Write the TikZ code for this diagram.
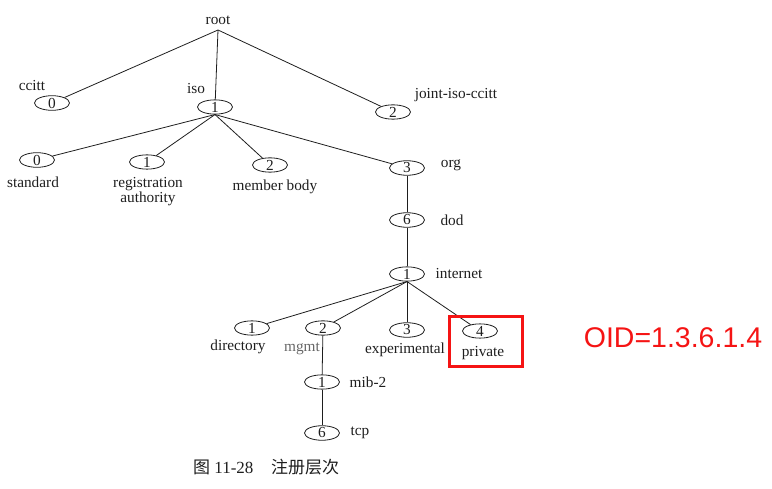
\documentclass[tikz,border=0pt]{standalone}
\usepackage{fontspec}
\setmainfont{Liberation Serif}
\newfontfamily\cjk{Noto Sans CJK SC}
\newfontfamily\oidfont{Liberation Sans}
\usetikzlibrary{shapes.geometric}
\definecolor{ink}{RGB}{30,30,30}
\definecolor{oidred}{RGB}{245,20,20}
\tikzset{
  oval/.style={ellipse, draw=ink, line width=0.8pt, minimum width=35pt, minimum height=14pt, inner sep=0pt, text=ink, font=\fontsize{15.3}{16}\selectfont},
  lbl/.style={inner sep=0pt, text=ink, font=\fontsize{15.3}{15.5}\selectfont, align=center},
  link/.style={draw=ink, line width=0.8pt},
  redbox/.style={draw=oidred, line width=3pt, minimum width=73pt, minimum height=50pt, inner sep=0pt},
}
\begin{document}
\begin{tikzpicture}[x=1pt,y=-1pt]
\useasboundingbox (0,0) rectangle (772,489);
% root
\node[lbl] (rootlbl) at (218,20) {root};
\coordinate (root) at (218,30);
% level 1
\node[oval] (ccitt) at (52,103) {0};
\node[lbl] (ccittlbl) at (32,86) {ccitt};
\node[oval] (iso) at (215,107) {1};
\node[lbl] (isolbl) at (196,89) {iso};
\node[oval] (joint) at (393,112) {2};
\node[lbl] (jointlbl) at (456,95) {joint-iso-ccitt};
% level 2
\node[oval] (std) at (37,160) {0};
\node[lbl] (stdlbl) at (33,182) {standard};
\node[oval] (reg) at (147,162) {1};
\node[lbl] (reglbl) at (148,191.5) {registration\\authority};
\node[oval] (mem) at (270,165) {2};
\node[lbl] (memlbl) at (275,187) {member body};
\node[oval] (org) at (407,168) {3};
\node[lbl] (orglbl) at (451,165) {org};
% dod
\node[oval] (dod) at (407,220) {6};
\node[lbl] (dodlbl) at (452,220) {dod};
% internet
\node[oval] (inet) at (407,274) {1};
\node[lbl] (inetlbl) at (459,274) {internet};
% internet children
\node[oval] (dir) at (252,328) {1};
\node[lbl] (dirlbl) at (238,347) {directory};
\node[oval] (mgmt) at (323,328) {2};
\node[lbl, text=black!60] (mgmtlbl) at (302,349) {mgmt};
\node[oval] (exp) at (407,330) {3};
\node[lbl] (explbl) at (405,350) {experimental};
\node[oval] (priv) at (480,331) {4};
\node[lbl] (privlbl) at (483,353) {private};
% mib-2 and tcp
\node[oval] (mib) at (322,382) {1};
\node[lbl] (miblbl) at (368,382) {mib-2};
\node[oval] (tcp) at (322,433) {6};
\node[lbl] (tcplbl) at (360,433) {tcp};
% connectors
\draw[link] (root) -- (ccitt);
\draw[link] (root) -- (iso);
\draw[link] (root) -- (joint);
\draw[link] (iso.south) -- (std);
\draw[link] (iso.south) -- (reg);
\draw[link] (iso.south) -- (mem);
\draw[link] (iso.south) -- (org);
\draw[link] (org) -- (dod);
\draw[link] (dod) -- (inet);
\draw[link] (inet.south) -- (dir);
\draw[link] (inet.south) -- (mgmt);
\draw[link] (inet.south) -- (exp);
\draw[link] (inet.south) -- (priv);
\draw[link] (mgmt) -- (mib);
\draw[link] (mib) -- (tcp);
% highlight
\node[redbox] (hl) at (485.5,342) {};
\node[inner sep=0pt, text=oidred, font=\oidfont\fontsize{28.5}{30}\selectfont] (oid) at (673,338) {OID=1.3.6.1.4};
% caption
\node[anchor=west, inner sep=0pt, text=ink, font=\fontsize{17}{18}\selectfont] (cap1) at (193,467) {{\cjk 图} 11-28};
\node[anchor=west, inner sep=0pt, text=ink, font=\cjk\fontsize{17}{18}\selectfont] (cap2) at (271,467) {注册层次};
\end{tikzpicture}
\end{document}
